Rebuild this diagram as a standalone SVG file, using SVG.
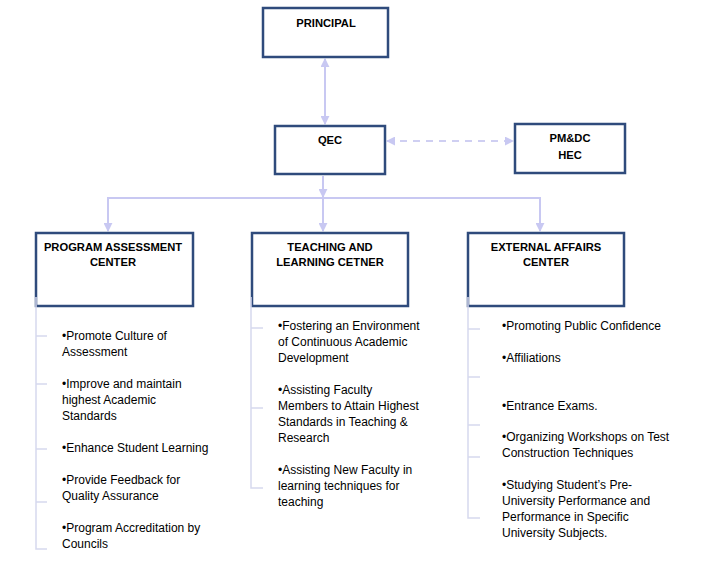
<svg xmlns="http://www.w3.org/2000/svg" width="702" height="587" viewBox="0 0 702 587">
<style>
.box{fill:#fff;stroke:#2F4B7C;stroke-width:2.5}
.t{font-family:"Liberation Sans",Arial,sans-serif;font-weight:bold;font-size:11.2px;fill:#000;text-anchor:middle}
.b{font-family:"Liberation Sans",Arial,sans-serif;font-size:12px;fill:#000}
.c{fill:none;stroke:#C8C8F2;stroke-width:2}
.d{fill:none;stroke:#CFCFF2;stroke-width:2;stroke-dasharray:7 6}
.l{fill:none;stroke:#D6D9EE;stroke-width:1.5}
</style>
<defs>
<marker id="ah" viewBox="0 0 10 10" refX="9" refY="5" markerWidth="4.5" markerHeight="4.5" orient="auto-start-reverse">
<path d="M0,0 L10,5 L0,10 z" fill="#C8C8F2"/>
</marker>
</defs>
<rect width="702" height="587" fill="#fff"/>
<g id="connectors">
<line class="c" x1="325" y1="59" x2="325" y2="124" marker-start="url(#ah)" marker-end="url(#ah)"/>
<line class="d" x1="387" y1="141" x2="513" y2="141" marker-start="url(#ah)" marker-end="url(#ah)"/>
<line class="c" x1="323" y1="176" x2="323" y2="197" marker-end="url(#ah)"/>
<path class="c" d="M108,231 V198 H540 V231" marker-start="url(#ah)" marker-end="url(#ah)"/>
<line class="c" x1="323" y1="198" x2="323" y2="231" marker-end="url(#ah)"/>
</g>
<g id="principal">
<rect class="box" x="263" y="8" width="125" height="49"/>
<text class="t" x="326" y="27">PRINCIPAL</text>
</g>
<g id="qec">
<rect class="box" x="275" y="126" width="110" height="48"/>
<text class="t" x="330" y="144">QEC</text>
</g>
<g id="pmdc">
<rect class="box" x="515" y="124" width="110" height="49"/>
<text class="t" x="570" y="142">PM&amp;DC</text>
<text class="t" x="570" y="159">HEC</text>
</g>
<g id="program">
<rect class="box" x="36" y="233" width="157" height="73"/>
<text class="t" x="113" y="251">PROGRAM ASSESSMENT</text>
<text class="t" x="113" y="266">CENTER</text>
<path class="l" d="M36,297 V549 H47 M36,336 H47 M36,384 H47 M36,449 H47 M36,502 H47"/>
<text class="b" x="62" y="340">•Promote Culture of</text>
<text class="b" x="62" y="356">Assessment</text>
<text class="b" x="62" y="388">•Improve and maintain</text>
<text class="b" x="62" y="404">highest Academic</text>
<text class="b" x="62" y="420">Standards</text>
<text class="b" x="62" y="452">•Enhance Student Learning</text>
<text class="b" x="62" y="484">•Provide Feedback for</text>
<text class="b" x="62" y="500">Quality Assurance</text>
<text class="b" x="62" y="532">•Program Accreditation by</text>
<text class="b" x="62" y="548">Councils</text>
</g>
<g id="teaching">
<rect class="box" x="252" y="233" width="156" height="73"/>
<text class="t" x="330" y="251">TEACHING AND</text>
<text class="t" x="330" y="266">LEARNING CETNER</text>
<path class="l" d="M251,297 V488 H263 M251,328 H263 M251,408 H263"/>
<text class="b" x="278" y="330">•Fostering an Environment</text>
<text class="b" x="278" y="346">of Continuous Academic</text>
<text class="b" x="278" y="362">Development</text>
<text class="b" x="278" y="394">•Assisting Faculty</text>
<text class="b" x="278" y="410">Members to Attain Highest</text>
<text class="b" x="278" y="426">Standards in Teaching &amp;</text>
<text class="b" x="278" y="442">Research</text>
<text class="b" x="278" y="474">•Assisting New Faculty in</text>
<text class="b" x="278" y="490">learning techniques for</text>
<text class="b" x="278" y="506">teaching</text>
</g>
<g id="external">
<rect class="box" x="468" y="233" width="156" height="73"/>
<text class="t" x="546" y="251">EXTERNAL AFFAIRS</text>
<text class="t" x="546" y="266">CENTER</text>
<path class="l" d="M468,297 V518 H480 M468,329 H480 M468,377 H480 M468,425 H480 M468,457 H480"/>
<text class="b" x="502" y="330">•Promoting Public Confidence</text>
<text class="b" x="502" y="362">•Affiliations</text>
<text class="b" x="502" y="410">•Entrance Exams.</text>
<text class="b" x="502" y="441">•Organizing Workshops on Test</text>
<text class="b" x="502" y="457">Construction Techniques</text>
<text class="b" x="502" y="489">•Studying Student’s Pre-</text>
<text class="b" x="502" y="505">University Performance and</text>
<text class="b" x="502" y="521">Performance in Specific</text>
<text class="b" x="502" y="537">University Subjects.</text>
</g>
</svg>
